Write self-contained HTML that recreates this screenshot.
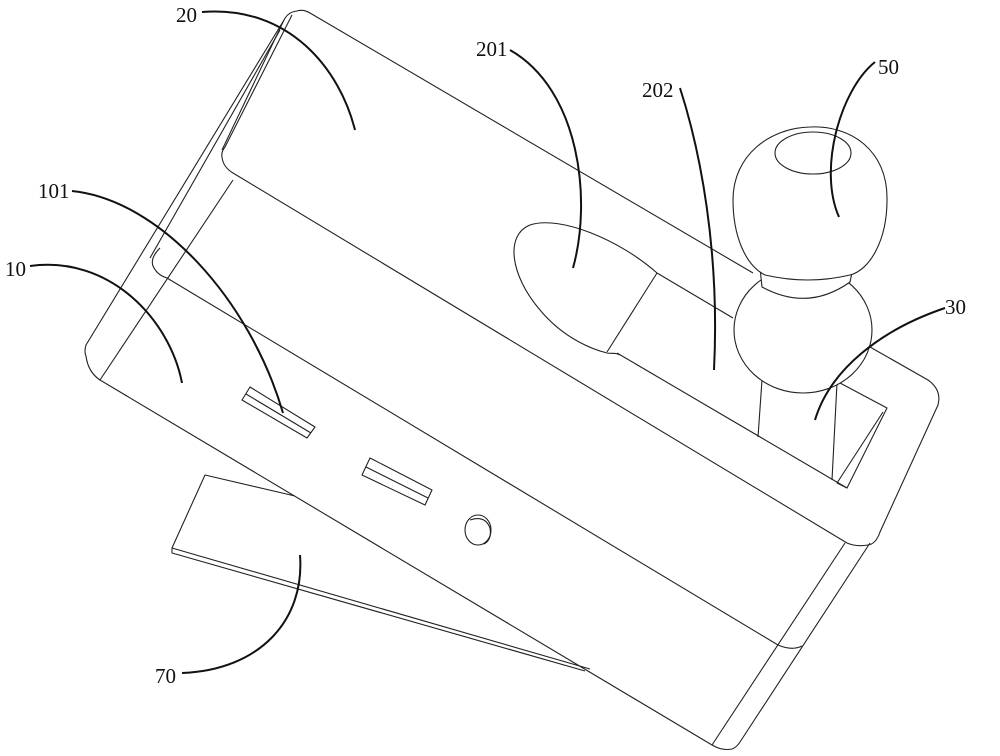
<!DOCTYPE html>
<html><head><meta charset="utf-8"><style>
html,body{margin:0;padding:0;background:#fff;}
svg{display:block;}
text{font-family:"Liberation Serif",serif;font-size:21px;fill:#111;}
</style></head><body>
<svg width="1000" height="756" viewBox="0 0 1000 756" xmlns="http://www.w3.org/2000/svg">
<g fill="none" stroke="#222" stroke-width="1.1" stroke-linejoin="round">
<!-- flap 70 -->
<path d="M295,496 L205,475 L172,548 L590,669"/>
<path d="M172,548 L172,553 L585,671"/>
<!-- body left side lines -->
<path d="M297,11 Q288,12 284,20 L86,345 Q84,352 86,356"/>
<path d="M284,20 L222,150"/>
<path d="M280,30 L150,258"/>
<path d="M233,180 L100,380"/>
<!-- body front bottom -->
<path d="M86,356 Q88,372 100,380 L712,745 Q722,751 732,749 Q737,747 740,742 L870,543"/>
<path d="M712,745 L845,543"/>
<!-- middle plate line -->
<path d="M160,248 Q150,258 153,266 Q157,275 167,278 L778,645 Q792,651 802,646"/>
<!-- top plate -->
<path d="M297,11 Q303,9 310,13 L753,273"/>
<path d="M870,347 L928,380 Q942,390 938,405 L880,532 Q876,544 868,545 Q856,547 847,543 L233,173 Q223,167 222,157 Q221,152 225,147 L292,15"/>
<!-- groove back line -->
<path d="M657,273 L733,318"/>
<!-- groove front line & window -->
<path d="M617,353 L847,488"/>
<path d="M840,383 L887,408 L847,488 L837,483 L883,412"/>
<!-- 201 recess -->
<path d="M657,273 C620,240 560,215 530,225 C505,235 510,275 540,310 C565,340 595,350 607,353 C612,354 615,352 620,355"/>
<path d="M657,273 L607,352"/>
<!-- stem -->
<path d="M762,380 L758,437"/>
<path d="M837,383 L832,480"/>
<!-- slots -->
<path d="M242,400 L250,387 L315,427 L307,438 Z"/>
<path d="M246,394 L311,433"/>
<path d="M362,475 L370,458 L432,490 L425,505 Z"/>
<path d="M366,467 L428,498"/>
<!-- hole -->
<ellipse cx="478" cy="530" rx="13" ry="15"/>
<path d="M470,520 Q485,515 490,528 Q492,540 484,544"/>
</g>
<!-- balls -->
<g fill="#fff" stroke="#222" stroke-width="1.1">
<ellipse cx="803" cy="330" rx="69" ry="63"/>
<path d="M760,268 L762,287 Q808,312 850,282 L853,268 Z"/>
<path d="M810,127 C850,125 888,150 887,200 C887,240 870,270 850,275 Q808,285 765,275 C745,265 733,235 733,200 C733,155 770,128 810,127 Z"/>
<ellipse cx="813" cy="153" rx="38" ry="21" fill="none"/>
</g>
<!-- leader curves -->
<g fill="none" stroke="#111" stroke-width="2">
<path d="M202,12 C290,5 340,70 355,130"/>
<path d="M510,50 C580,90 592,200 573,268"/>
<path d="M680,88 C700,150 720,250 714,370"/>
<path d="M875,62 C840,90 818,170 839,217"/>
<path d="M945,308 C880,330 830,370 815,420"/>
<path d="M30,266 C110,255 170,320 182,383"/>
<path d="M72,191 C160,200 250,300 283,413"/>
<path d="M182,673 C260,670 305,620 300,555"/>
</g>
<text x="176" y="22">20</text>
<text x="476" y="56">201</text>
<text x="642" y="97">202</text>
<text x="878" y="74">50</text>
<text x="945" y="314">30</text>
<text x="5" y="276">10</text>
<text x="38" y="198">101</text>
<text x="155" y="683">70</text>
</svg>
</body></html>
